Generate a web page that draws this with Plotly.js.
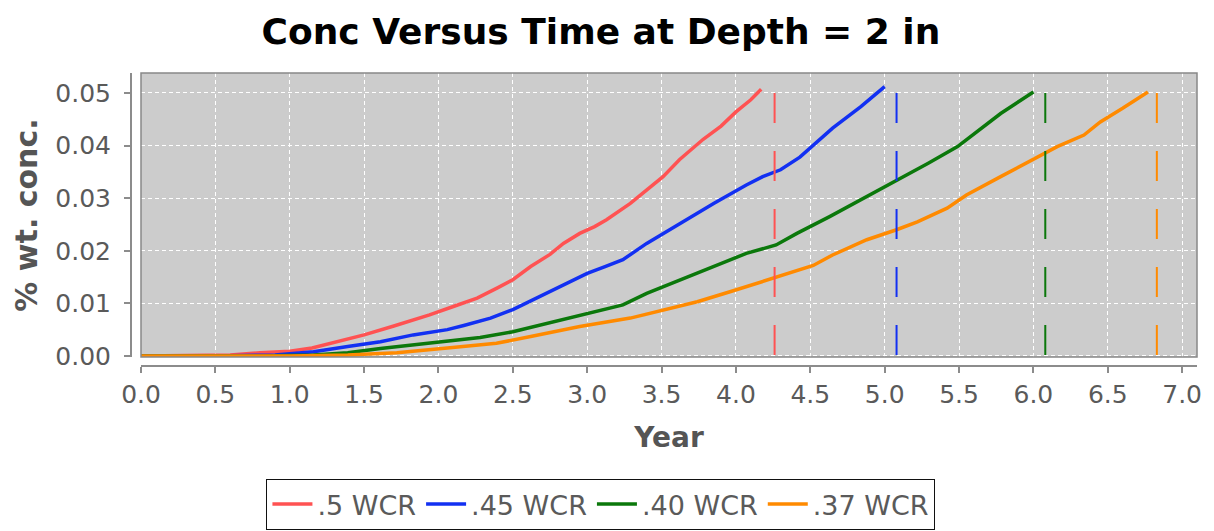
<!DOCTYPE html>
<html>
<head>
<meta charset="utf-8">
<script src="https://cdn.plot.ly/plotly-3.0.1.min.js"></script>
<style>html,body{margin:0;padding:0;background:#fff;}#chart{width:1214px;height:531px;}</style>
</head>
<body>
<div id="chart"></div>
<script>
// Series names and colours
const seriesNames = [".5 WCR", ".45 WCR", ".40 WCR", ".37 WCR"];
const seriesColors = ["#ff5252", "#1230f2", "#0b780b", "#ff8a00"];

// .5 WCR
const yearsW50 = [0, 0.3, 0.6, 0.8, 1.0, 1.15, 1.3, 1.5, 1.7, 1.94, 2.1, 2.26, 2.4, 2.5, 2.62, 2.75, 2.84, 2.95, 3.05, 3.13, 3.29, 3.4, 3.51, 3.62, 3.78, 3.9, 4.0, 4.1, 4.17];
const concW50  = [0, 0.0001, 0.0002, 0.0006, 0.0009, 0.0015, 0.0025, 0.004, 0.0057, 0.0078, 0.0094, 0.011, 0.013, 0.0145, 0.017, 0.0193, 0.0214, 0.0233, 0.0246, 0.0259, 0.029, 0.0315, 0.0341, 0.0373, 0.0412, 0.0437, 0.0464, 0.0487, 0.0507];

// .45 WCR
const yearsW45 = [0, 0.5, 0.9, 1.16, 1.39, 1.61, 1.83, 2.06, 2.17, 2.35, 2.5, 2.62, 2.84, 3.0, 3.12, 3.24, 3.4, 3.62, 3.85, 4.07, 4.18, 4.3, 4.43, 4.65, 4.84, 5.0];
const concW45  = [0, 0, 0.0002, 0.0008, 0.0018, 0.0027, 0.004, 0.005, 0.0058, 0.0072, 0.0088, 0.0105, 0.0135, 0.0157, 0.017, 0.0183, 0.0214, 0.0252, 0.029, 0.0325, 0.0341, 0.0354, 0.0378, 0.0433, 0.0474, 0.0512];

// .40 WCR
const yearsW40 = [0, 0.8, 1.16, 1.39, 1.61, 1.83, 2.06, 2.28, 2.5, 2.73, 2.95, 3.1, 3.24, 3.4, 3.62, 3.85, 4.07, 4.27, 4.41, 4.63, 4.88, 5.08, 5.29, 5.49, 5.64, 5.78, 6.0];
const concW40  = [0, 0, 0.0002, 0.0006, 0.0014, 0.0021, 0.0027, 0.0035, 0.0046, 0.0062, 0.0078, 0.0088, 0.0097, 0.0119, 0.0144, 0.017, 0.0195, 0.0211, 0.0233, 0.0265, 0.0303, 0.0335, 0.0366, 0.0398, 0.0431, 0.0461, 0.0502];

// .37 WCR
const yearsW37 = [0, 1.0, 1.39, 1.72, 2.06, 2.28, 2.39, 2.62, 2.95, 3.29, 3.51, 3.74, 3.96, 4.18, 4.32, 4.52, 4.65, 4.88, 5.08, 5.22, 5.42, 5.55, 5.78, 6.0, 6.16, 6.34, 6.45, 6.6, 6.77];
const concW37  = [0, 0, 0.0002, 0.0006, 0.0015, 0.0021, 0.0024, 0.0037, 0.0056, 0.0072, 0.0087, 0.0103, 0.0122, 0.0141, 0.0154, 0.0172, 0.0192, 0.0221, 0.024, 0.0255, 0.0281, 0.0306, 0.0341, 0.0373, 0.0398, 0.042, 0.0445, 0.0471, 0.0502];

// Threshold (vertical dashed) lines
const thresholdYears = [4.26, 5.08, 6.08, 6.83];
const thresholdConc = 0.05;

const seriesYears = [yearsW50, yearsW45, yearsW40, yearsW37];
const seriesConc = [concW50, concW45, concW40, concW37];

const FONT = "DejaVu Sans";
const traces = [];
for (let i = 0; i < seriesNames.length; i++) {
  traces.push({
    type: "scatter", mode: "lines", name: seriesNames[i],
    x: seriesYears[i], y: seriesConc[i],
    line: {color: seriesColors[i], width: 3.5},
    hoverinfo: "skip"
  });
}
for (let i = 0; i < thresholdYears.length; i++) {
  traces.push({
    type: "scatter", mode: "lines", showlegend: false,
    x: [thresholdYears[i], thresholdYears[i]], y: [thresholdConc, 0],
    line: {color: seriesColors[i], width: 2, dash: "30px,28px"},
    hoverinfo: "skip"
  });
}

const axisCommon = {
  showline: true, linecolor: "#8c8c8c", linewidth: 2,
  ticks: "outside", ticklen: 6, tickwidth: 2, tickcolor: "#8c8c8c",
  showgrid: true, gridcolor: "#ffffff", gridwidth: 1, griddash: "4px,3px",
  zeroline: false, anchor: "free", position: 0,
  tickfont: {family: FONT, size: 25, color: "#5a5a5a"}
};

const layout = {
  width: 1214, height: 531,
  paper_bgcolor: "#ffffff", plot_bgcolor: "#cccccc",
  margin: {l: 131, r: 17, t: 73, b: 165, pad: 0},
  title: {
    text: "<b>Conc Versus Time at Depth = 2 in</b>",
    font: {family: FONT, size: 36, color: "#000000"},
    xref: "container", x: 0.495, xanchor: "center",
    yref: "container", y: 1 - 31 / 531, yanchor: "middle"
  },
  xaxis: Object.assign({}, axisCommon, {
    domain: [10 / 1066, 1], range: [0, 7.1], tick0: 0, dtick: 0.5, tickformat: ".1f",
    title: {text: "<b>Year</b>", font: {family: FONT, size: 28, color: "#555555"}, standoff: 18}
  }),
  yaxis: Object.assign({}, axisCommon, {
    domain: [9 / 293, 1], range: [-0.0002, 0.0538], tick0: 0, dtick: 0.01, tickformat: ".2f",
    ticklabelstandoff: 8,
    title: {text: "<b>% wt. conc.</b>", font: {family: FONT, size: 30, color: "#555555"}, standoff: 8}
  }),
  shapes: [{
    type: "rect", xref: "x domain", yref: "y domain", x0: 0, x1: 1, y0: 0, y1: 1,
    line: {color: "#888888", width: 1.5}, layer: "above"
  }],
  legend: {
    orientation: "h", xref: "container", yref: "container",
    x: 0.495, xanchor: "center", y: 1 - 479 / 531, yanchor: "top",
    bgcolor: "#ffffff", bordercolor: "#111111", borderwidth: 1,
    font: {family: FONT, size: 27, color: "#5a5a5a"},
    itemwidth: 40, tracegroupgap: 0
  },
  showlegend: true
};

Plotly.newPlot("chart", traces, layout, {displayModeBar: false, staticPlot: true});
</script>
</body>
</html>
